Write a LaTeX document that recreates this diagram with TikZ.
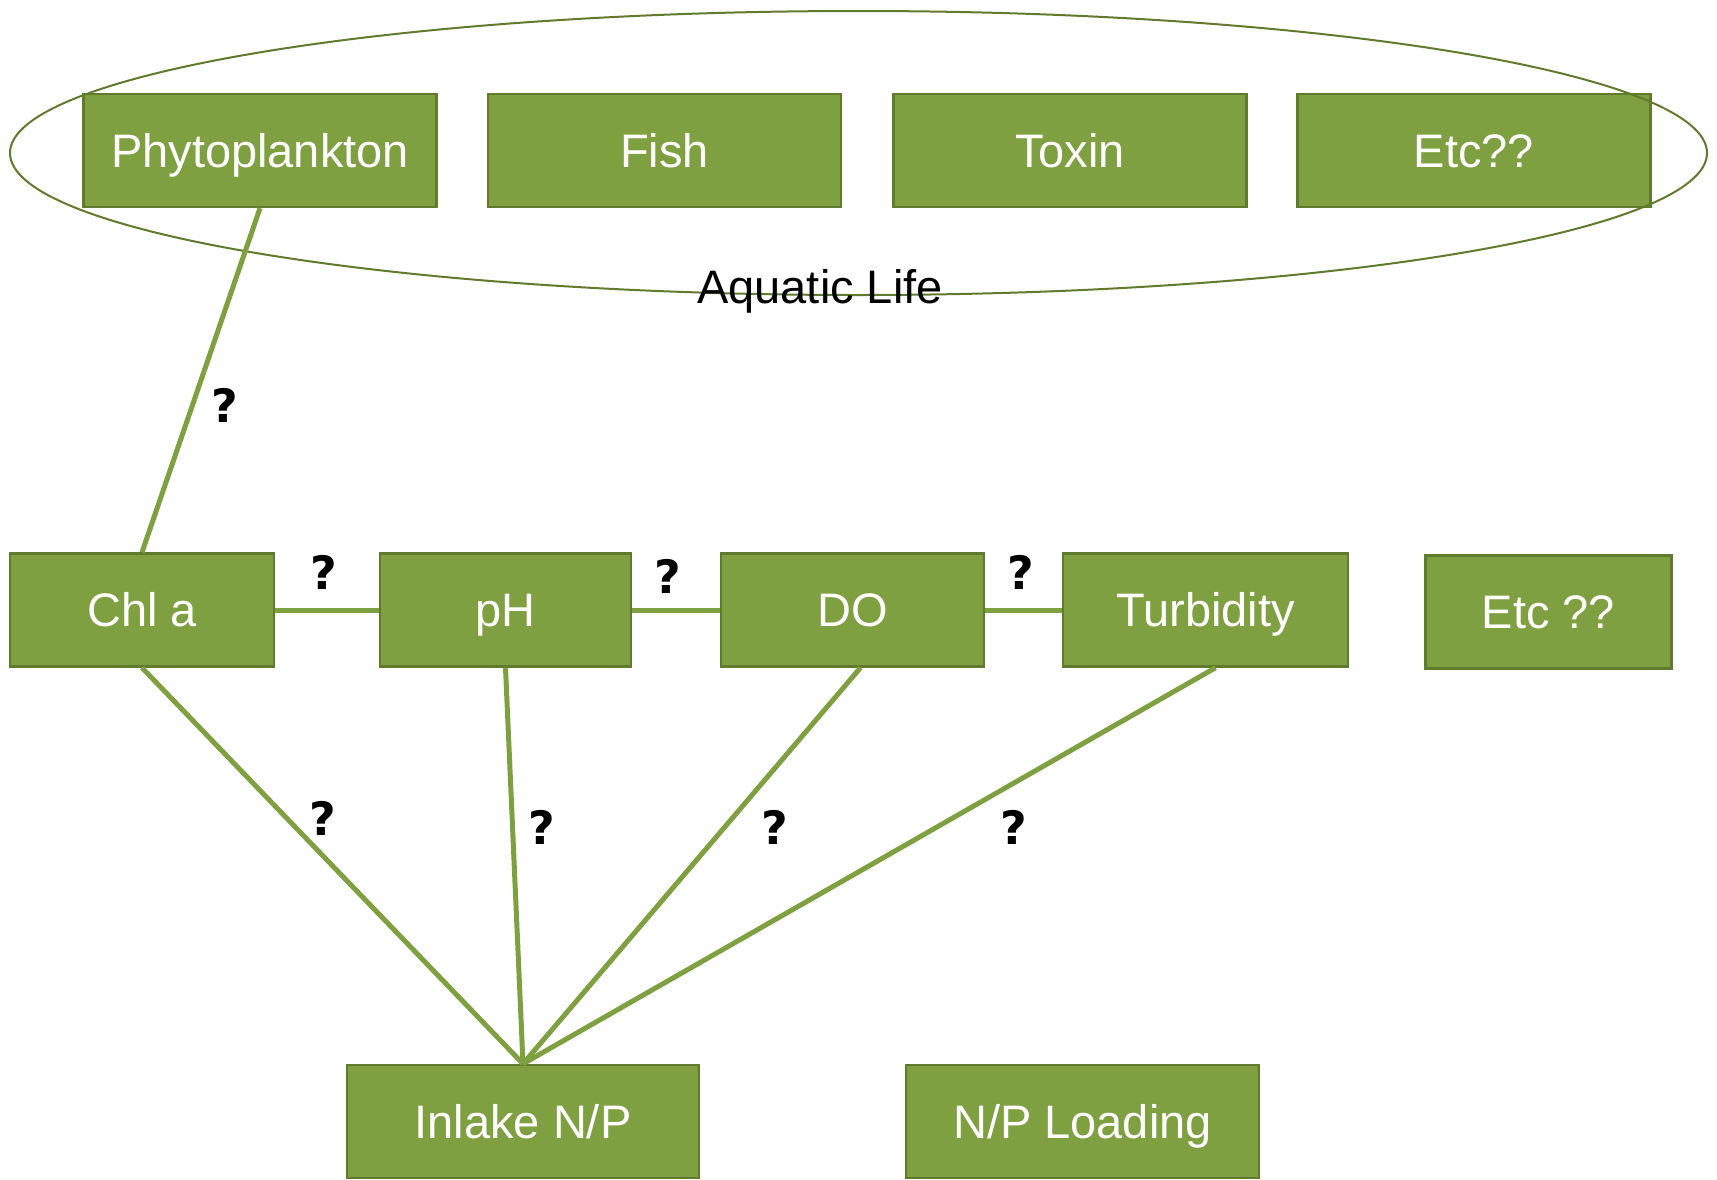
\documentclass[tikz,border=0pt]{standalone}
\usepackage{fontspec}
\setmainfont{Liberation Sans}
\newfontfamily\qfont{DejaVu Sans}
\definecolor{boxfill}{RGB}{127,160,64}
\definecolor{boxline}{RGB}{96,122,46}
\definecolor{linkc}{RGB}{127,160,64}
\definecolor{ellc}{RGB}{96,122,46}
\tikzset{
  gbox/.style={draw=boxline, line width=1.2pt, fill=boxfill, text=white, inner sep=0pt,
    minimum height=56.5pt, text height=16.8pt, text depth=0pt,
    font=\fontsize{23.5}{28}\selectfont},
  link/.style={draw=linkc, line width=2.5pt},
  qmark/.style={font=\qfont\fontsize{23}{28}\selectfont\bfseries, text=black, inner sep=0pt},
}
\begin{document}
\begin{tikzpicture}[x=0.5pt,y=-0.5pt]
\useasboundingbox (0,0) rectangle (1717,1179);
% row 1
\node[gbox, minimum width=176.5pt] (phyto) at (260,150.5) {Phytoplankton};
\node[gbox, minimum width=176.5pt] (fish) at (664.5,150.5) {Fish};
\node[gbox, minimum width=176.5pt] (toxin) at (1070,150.5) {Toxin};
\node[gbox, minimum width=176.5pt] (etc1) at (1474,150.5) {Etc??};
% ellipse
\draw[ellc, line width=1pt] (858.5,153) ellipse [x radius=848.5, y radius=142];
\node[font=\fontsize{23.5}{28}\selectfont, inner sep=0pt, text height=16.8pt, text depth=0pt] (aq) at (820,287) {Aquatic Life};
% row 2
\node[gbox, minimum width=132pt] (chl) at (142,610) {Chl a};
\node[gbox, minimum width=125.5pt] (ph) at (505.5,610) {pH};
\node[gbox, minimum width=131.5pt] (do) at (852.5,610) {DO};
\node[gbox, minimum width=142.5pt] (turb) at (1205.5,610) {Turbidity};
\node[gbox, minimum width=123pt] (etc2) at (1548.5,612) {Etc ??};
% row 3
\node[gbox, minimum width=176pt] (inlake) at (523,1121.5) {Inlake N/P};
\node[gbox, minimum width=176.5pt] (load) at (1082.5,1121.5) {N/P Loading};
% links
\draw[link] (phyto.south) -- (chl.north);
\draw[link] (chl.east) -- (ph.west);
\draw[link] (ph.east) -- (do.west);
\draw[link] (do.east) -- (turb.west);
\draw[link] (chl.south) -- (inlake.north);
\draw[link] (ph.south) -- (inlake.north);
\draw[link] ([xshift=4pt]do.south) -- (inlake.north);
\draw[link] ([xshift=5pt]turb.south) -- (inlake.north);
% question marks
\node[qmark] (q1) at (224.5,405) {?};
\node[qmark] (q2) at (324,572) {?};
\node[qmark] (q3) at (668,576) {?};
\node[qmark] (q4) at (1021,572) {?};
\node[qmark] (q5) at (323,818) {?};
\node[qmark] (q6) at (542,827) {?};
\node[qmark] (q7) at (775,827) {?};
\node[qmark] (q8) at (1014,827) {?};
\end{tikzpicture}
\end{document}
